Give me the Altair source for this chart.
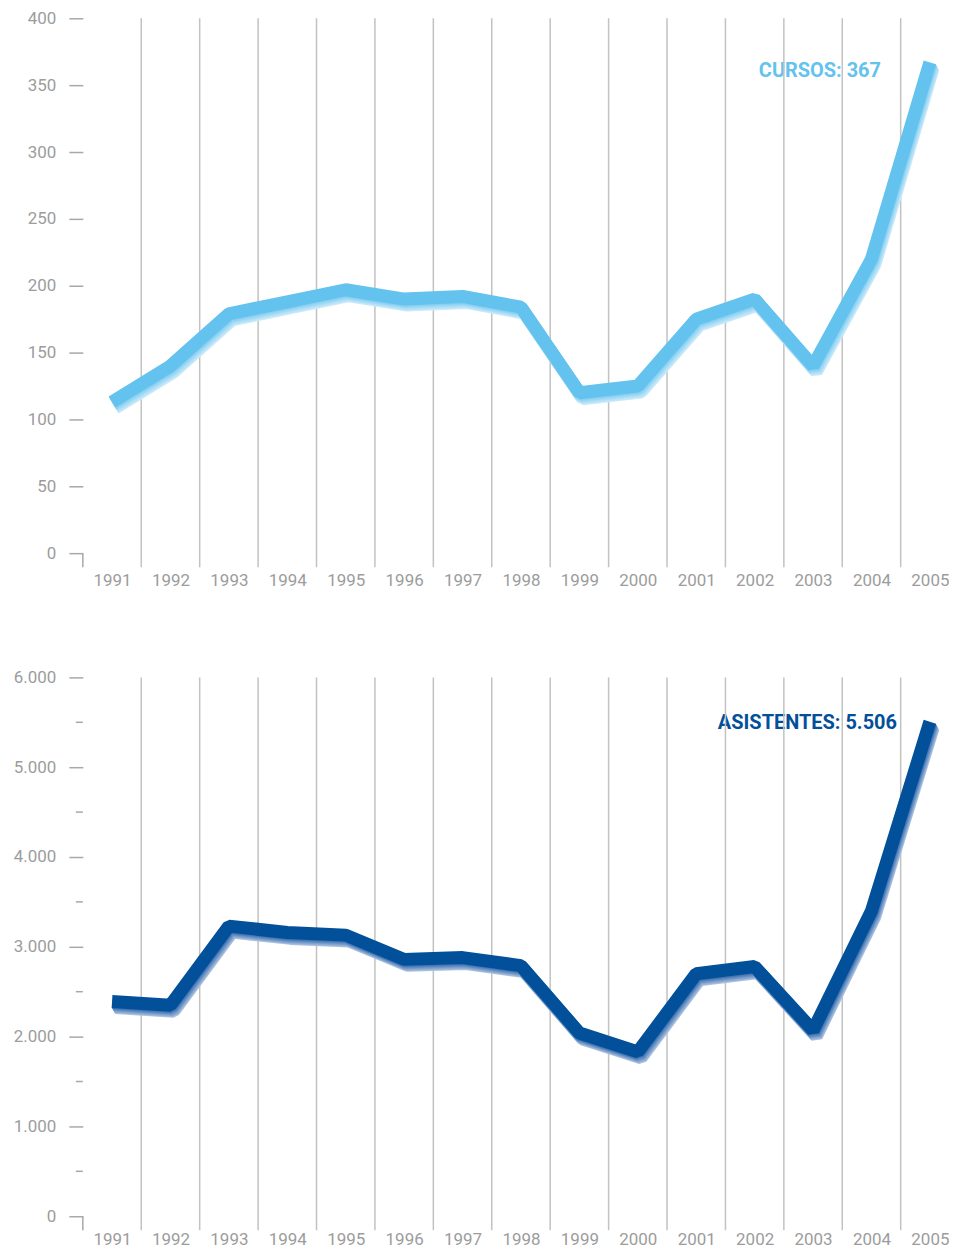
import altair as alt
import pandas as pd

years = list(range(1991, 2006))
cursos = [113, 140, 179, 188, 197, 190, 192, 184, 120, 125, 175, 190, 140, 220, 367]
asistentes = [2390, 2350, 3230, 3160, 3130, 2860, 2880, 2790, 2040, 1830, 2700, 2780, 2070, 3400, 5506]
grid_bounds = [y + 0.5 for y in range(1991, 2005)]
top_ticks = list(range(0, 401, 50))
bot_major = list(range(0, 6001, 1000))
bot_minor = list(range(500, 6000, 1000))

FONT = "Roboto, Liberation Sans, sans-serif"
W = 867
X_DOMAIN = [1990.5, 2005.31]
GRID = "#c2c2c2"
TICK = "#a8a8a8"
LABEL = "#9c9c9c"


def mix(c1, c2, t):
    a = [int(c1[i:i + 2], 16) for i in (1, 3, 5)]
    b = [int(c2[i:i + 2], 16) for i in (1, 3, 5)]
    return "#" + "".join(f"{round(x + (y - x) * t):02x}" for x, y in zip(a, b))


def panel(values, ymin, ymax, height, major, minor, text, main, tint, dx, dy,
          label_expr, xpad):
    xscale = alt.Scale(domain=X_DOMAIN, nice=False, zero=False)
    yscale = alt.Scale(domain=[ymin, ymax], nice=False, zero=False)
    df = pd.DataFrame({"year": years, "value": values})

    x_axis = alt.Axis(values=years, format="d", title=None, grid=False,
                      domain=False, ticks=False, labelFont=FONT,
                      labelFontSize=17, labelColor=LABEL, labelPadding=xpad,
                      labelBaseline="middle", labelFlush=False)
    y_axis = alt.Axis(values=major, title=None, grid=False, domain=False,
                      tickSize=14, tickColor=TICK, tickWidth=1.5,
                      labelPadding=13, labelFont=FONT,
                      labelFontSize=17, labelColor=LABEL, labelExpr=label_expr)

    def X(field):
        return alt.X(field, scale=xscale, title=None)

    def Y(field):
        return alt.Y(field, scale=yscale, title=None)

    base = alt.Chart(df)
    axis_layer = base.mark_line(opacity=0).encode(
        x=alt.X("year:Q", scale=xscale, axis=x_axis),
        y=alt.Y("value:Q", scale=yscale, axis=y_axis))

    label_df = pd.DataFrame({"year": [years[-1]], "value": [values[-1]], "t": [text]})
    txt = alt.Chart(label_df).mark_text(
        align="right", baseline="middle", dx=dx, dy=dy, font=FONT, fontSize=20,
        fontWeight="bold", color=main
    ).encode(x=X("year:Q"), y=Y("value:Q"), text="t:N")

    grid = alt.Chart(pd.DataFrame({"b": grid_bounds})).mark_rule(
        color=GRID, strokeWidth=1.5
    ).encode(x=X("b:Q"))

    stub = alt.Chart(pd.DataFrame({"b": [X_DOMAIN[0]], "lo": [ymin], "hi": [0]})).mark_rule(
        color=TICK, strokeWidth=1.5
    ).encode(x=X("b:Q"), y=Y("lo:Q"), y2="hi:Q")

    layers = [axis_layer, txt, grid, stub]
    if minor:
        mt = alt.Chart(pd.DataFrame({"m": minor})).mark_rule(
            color=TICK, strokeWidth=1.5
        ).encode(y=Y("m:Q"), x=alt.value(-7), x2=alt.value(0))
        layers.append(mt)

    n = 6
    for i in range(n, 0, -1):
        col = mix(mix(main, tint, 0.35), "#ffffff", 0.1 * i)
        layers.append(base.mark_line(
            color=col, strokeWidth=13, strokeJoin="bevel", strokeCap="butt",
            xOffset=0.55 * i, yOffset=1.0 * i
        ).encode(x=X("year:Q"), y=Y("value:Q")))
    layers.append(base.mark_line(
        color=main, strokeWidth=13, strokeJoin="bevel", strokeCap="butt"
    ).encode(x=X("year:Q"), y=Y("value:Q")))

    return alt.layer(*layers).properties(width=W, height=height)


top = panel(cursos, -10.45, 400, 550, top_ticks, None, "CURSOS: 367",
            "#63c2ee", "#a9dcf6", -49, 9, "format(datum.value, 'd')", 13)
bottom = panel(asistentes, -156, 6000, 554, bot_major, bot_minor, "ASISTENTES: 5.506",
               "#03509a", "#7f8fd0", -33, 1,
               "replace(format(datum.value, ','), ',', '.')", 9)

chart = alt.vconcat(top, bottom, spacing=80.5).properties(
    padding={"left": 5, "top": 0, "right": 0, "bottom": 0}
).configure_view(stroke=None)

chart.save("out.html", embed_options={"renderer": "svg", "actions": False})
